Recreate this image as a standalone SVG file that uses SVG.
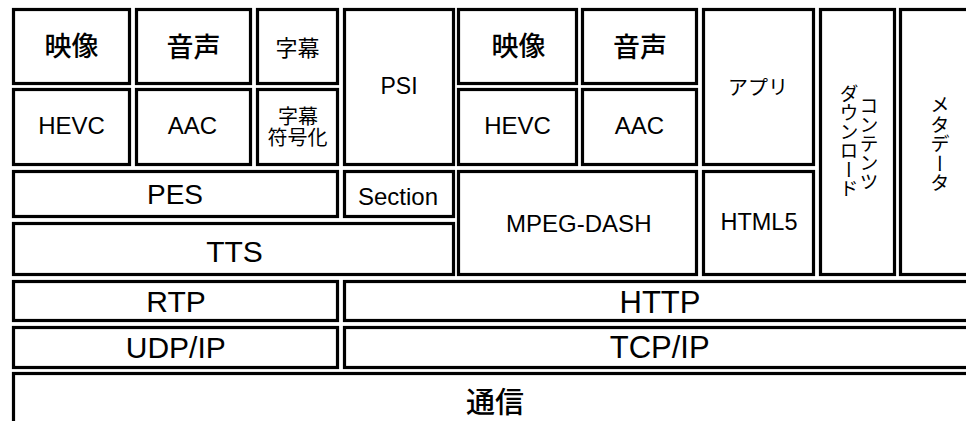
<svg xmlns="http://www.w3.org/2000/svg" width="966" height="421" viewBox="0 0 966 421">
<style>
.b{fill:#fff;stroke:#000;stroke-width:3.2}
.l{font-family:"Liberation Sans",Arial,sans-serif;fill:#000;text-anchor:middle}
.j{font-family:"Noto Sans CJK JP",sans-serif;fill:#000;text-anchor:middle;dominant-baseline:central}
.jb{font-weight:500}
.v{writing-mode:vertical-rl}
</style>
<rect width="966" height="421" fill="#fff"/>
<g id="video-l"><rect class="b" x="13.5" y="9.5" width="116" height="74"/><text class="j jb" x="71.5" y="44" font-size="27">映像</text></g>
<g id="audio-l"><rect class="b" x="136.5" y="9.5" width="114" height="74"/><text class="j jb" x="193.5" y="45" font-size="27">音声</text></g>
<g id="subtitle"><rect class="b" x="257.5" y="9.5" width="80" height="74"/><text class="j" x="297.5" y="46" font-size="22">字幕</text></g>
<g id="psi"><rect class="b" x="344.5" y="9.5" width="109" height="155"/><text class="l" x="399" y="94.3" font-size="23">PSI</text></g>
<g id="hevc-l"><rect class="b" x="13.5" y="89.5" width="116" height="75"/><text class="l" x="71.5" y="134" font-size="24">HEVC</text></g>
<g id="aac-l"><rect class="b" x="136.5" y="89.5" width="114" height="75"/><text class="l" x="192.5" y="134" font-size="24">AAC</text></g>
<g id="subtitle-enc"><rect class="b" x="257.5" y="89.5" width="80" height="75"/><text class="j" font-size="20"><tspan x="298" y="114.5">字幕</tspan><tspan x="297.5" y="135.5">符号化</tspan></text></g>
<g id="pes"><rect class="b" x="13.5" y="171.5" width="324" height="45"/><text class="l" x="175" y="204" font-size="28">PES</text></g>
<g id="section"><rect class="b" x="344.5" y="171.5" width="109" height="45"/><text class="l" x="398" y="205" font-size="24">Section</text></g>
<g id="tts"><rect class="b" x="13.5" y="223.5" width="440" height="51"/><text class="l" x="234.5" y="262.3" font-size="30">TTS</text></g>
<g id="video-r"><rect class="b" x="458.5" y="9.5" width="118" height="74"/><text class="j jb" x="518.5" y="44" font-size="27">映像</text></g>
<g id="audio-r"><rect class="b" x="582.5" y="9.5" width="114" height="74"/><text class="j jb" x="640" y="45" font-size="27">音声</text></g>
<g id="hevc-r"><rect class="b" x="458.5" y="89.5" width="118" height="75"/><text class="l" x="517.5" y="134" font-size="24">HEVC</text></g>
<g id="aac-r"><rect class="b" x="582.5" y="89.5" width="114" height="75"/><text class="l" x="639.5" y="134" font-size="24">AAC</text></g>
<g id="app"><rect class="b" x="703.5" y="9.5" width="110" height="155"/><text class="j" x="758" y="86.5" font-size="20">アプリ</text></g>
<g id="mpeg-dash"><rect class="b" x="458.5" y="171.5" width="238" height="103"/><text class="l" x="578.8" y="232.3" font-size="24">MPEG-DASH</text></g>
<g id="html5"><rect class="b" x="703.5" y="171.5" width="110" height="103"/><text class="l" x="759" y="230" font-size="23.5">HTML5</text></g>
<g id="content-download"><rect class="b" x="820.5" y="9.5" width="74" height="265"/><text class="j v" x="869" y="143.3" font-size="19">コンテンツ</text><text class="j v" x="849" y="141.7" font-size="19">ダウンロード</text></g>
<g id="metadata"><rect class="b" x="900.5" y="9.5" width="80" height="265"/><text class="j v" x="940" y="144" font-size="19.5">メタデータ</text></g>
<g id="rtp"><rect class="b" x="13.5" y="281.5" width="324" height="39"/><text class="l" x="176" y="311.7" font-size="30">RTP</text></g>
<g id="http"><rect class="b" x="344.5" y="281.5" width="632" height="39"/><text class="l" x="660" y="313" font-size="31">HTTP</text></g>
<g id="udp-ip"><rect class="b" x="13.5" y="327.5" width="324" height="40"/><text class="l" x="175.8" y="358.3" font-size="30">UDP/IP</text></g>
<g id="tcp-ip"><rect class="b" x="344.5" y="327.5" width="632" height="40"/><text class="l" x="659.7" y="358.3" font-size="31">TCP/IP</text></g>
<g id="comm"><rect class="b" x="13.5" y="373.5" width="963" height="60"/><text class="j jb" x="495" y="400" font-size="29">通信</text></g>
<g id="connectors"></g>
</svg>
